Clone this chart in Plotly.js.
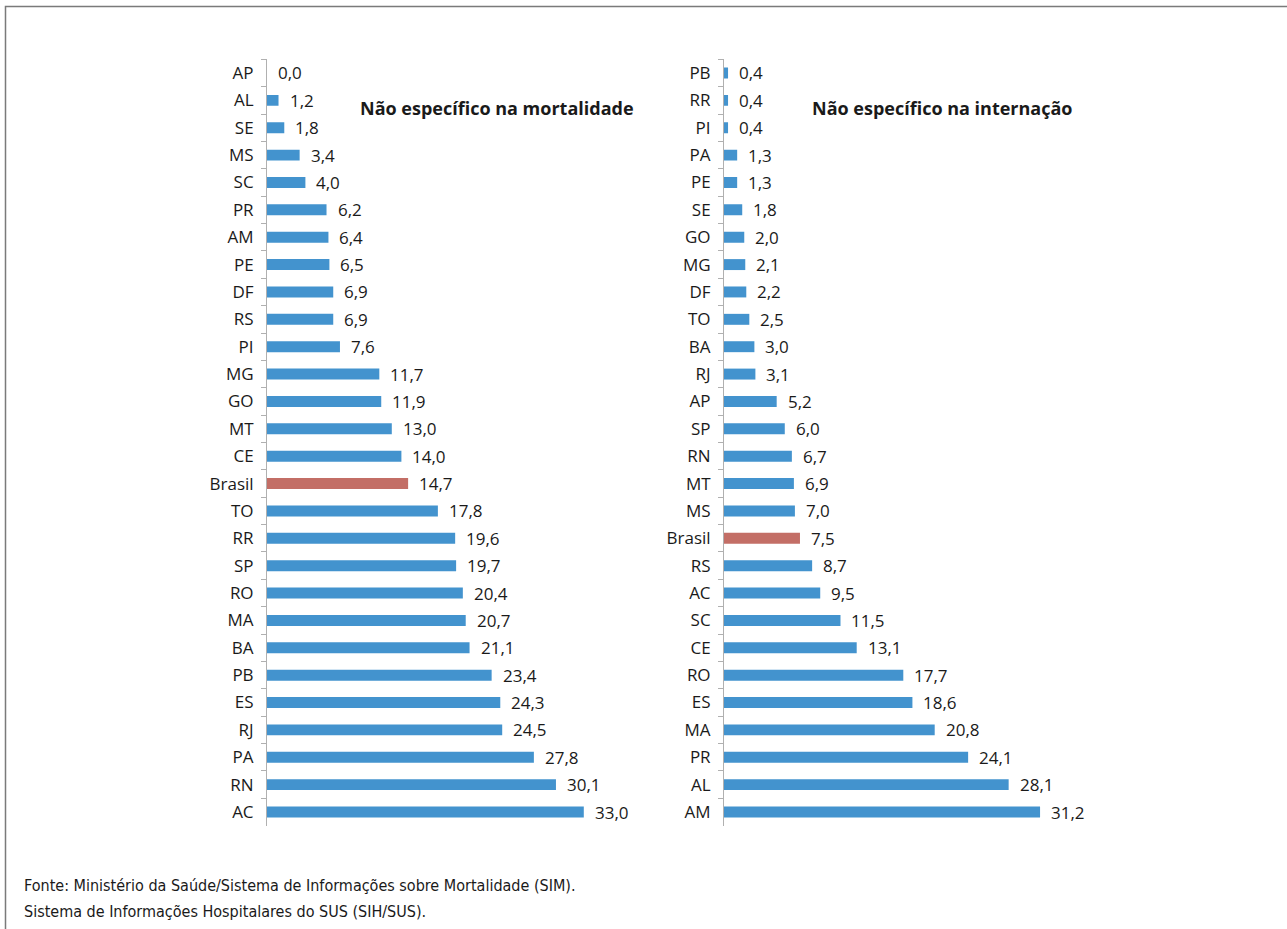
<!DOCTYPE html>
<html>
<head>
<meta charset="utf-8">
<script src="https://cdn.plot.ly/plotly-3.0.1.min.js"></script>
<style>html,body{margin:0;padding:0;background:#fff;}#chart{width:1287px;height:929px;}</style>
</head>
<body>
<div id="chart"></div>
<script>
// Left chart: Não específico na mortalidade
const catsMort = ["AP","AL","SE","MS","SC","PR","AM","PE","DF","RS","PI","MG","GO","MT","CE","Brasil","TO","RR","SP","RO","MA","BA","PB","ES","RJ","PA","RN","AC"];
const valsMort = [0.0,1.2,1.8,3.4,4.0,6.2,6.4,6.5,6.9,6.9,7.6,11.7,11.9,13.0,14.0,14.7,17.8,19.6,19.7,20.4,20.7,21.1,23.4,24.3,24.5,27.8,30.1,33.0];
// Right chart: Não específico na internação
const catsInt = ["PB","RR","PI","PA","PE","SE","GO","MG","DF","TO","BA","RJ","AP","SP","RN","MT","MS","Brasil","RS","AC","SC","CE","RO","ES","MA","PR","AL","AM"];
const valsInt = [0.4,0.4,0.4,1.3,1.3,1.8,2.0,2.1,2.2,2.5,3.0,3.1,5.2,6.0,6.7,6.9,7.0,7.5,8.7,9.5,11.5,13.1,17.7,18.6,20.8,24.1,28.1,31.2];
const titleMort = "Não específico na mortalidade";
const titleInt = "Não específico na internação";
const fonteLines = ["Fonte: Ministério da Saúde/Sistema de Informações sobre Mortalidade (SIM).",
                    "Sistema de Informações Hospitalares do SUS (SIH/SUS)."];

const W = 1287, H = 929;
const BLUE = "#4393CE", RED = "#C36E66";
const FONT = "Open Sans, Noto Sans, sans-serif";
const fmt = v => v.toFixed(1).replace(".", ",");
const colorsFor = cats => cats.map(c => c === "Brasil" ? RED : BLUE);

const px = v => v / W;
const py = v => 1 - v / H;

const traces = [
  {type: "bar", orientation: "h", x: valsMort, y: catsMort, xaxis: "x", yaxis: "y",
   marker: {color: colorsFor(catsMort)}, hoverinfo: "skip"},
  {type: "bar", orientation: "h", x: valsInt, y: catsInt, xaxis: "x2", yaxis: "y2",
   marker: {color: colorsFor(catsInt)}, hoverinfo: "skip"}
];

const ann = [];
catsMort.forEach((c, i) => ann.push({xref: "x", yref: "y", x: valsMort[i], y: c, text: fmt(valsMort[i]),
  showarrow: false, xanchor: "left", xshift: 9, font: {family: FONT, size: 17, color: "#1a1a1a"}}));
catsInt.forEach((c, i) => ann.push({xref: "x2", yref: "y2", x: valsInt[i], y: c, text: fmt(valsInt[i]),
  showarrow: false, xanchor: "left", xshift: 9, font: {family: FONT, size: 17, color: "#1a1a1a"}}));
ann.push({xref: "paper", yref: "paper", x: px(358), y: py(108), xanchor: "left", yanchor: "middle",
  text: "<b>" + titleMort + "</b>", showarrow: false, font: {family: FONT, size: 18, color: "#1a1a1a"}});
ann.push({xref: "paper", yref: "paper", x: px(810), y: py(108), xanchor: "left", yanchor: "middle",
  text: "<b>" + titleInt + "</b>", showarrow: false, font: {family: FONT, size: 18, color: "#1a1a1a"}});
fonteLines.forEach((t, i) => ann.push({xref: "paper", yref: "paper", x: px(22), y: py(885 + i * 26),
  xanchor: "left", yanchor: "middle", text: t, showarrow: false,
  font: {family: "Liberation Sans Narrow, DejaVu Sans Condensed, sans-serif", size: 16, color: "#1a1a1a"}}));

const yax = (cats) => ({
  type: "category", categoryorder: "array", categoryarray: cats, autorange: "reversed",
  showline: true, linecolor: "#b0b0b0", linewidth: 1, ticks: "outside", tickson: "boundaries",
  ticklen: 5, tickcolor: "#b0b0b0", showgrid: false, zeroline: false,
  tickfont: {family: FONT, size: 17, color: "#1a1a1a"}, ticklabelstandoff: 9,
  domain: [py(825.7), py(59.3)], fixedrange: true
});
const xax = (d0, range) => ({
  domain: [px(d0), px(d0 + range[1] * (d0 < 500 ? 9.6 : 10.13))], range: range,
  visible: false, showgrid: false, zeroline: false, fixedrange: true
});

const layout = {
  width: W, height: H, margin: {l: 0, r: 0, t: 0, b: 0},
  paper_bgcolor: "#fff", plot_bgcolor: "rgba(0,0,0,0)", showlegend: false,
  bargap: 0.6,
  xaxis: Object.assign(xax(267, [0, 35]), {anchor: "y"}),
  yaxis: Object.assign(yax(catsMort), {anchor: "x"}),
  xaxis2: Object.assign(xax(724, [0, 35]), {anchor: "y2"}),
  yaxis2: Object.assign(yax(catsInt), {anchor: "x2"}),
  annotations: ann,
  shapes: [{type: "rect", xref: "paper", yref: "paper", x0: px(5.5), x1: px(1300), y0: py(940), y1: py(6.5),
    line: {color: "#7a7a7a", width: 1.5}, fillcolor: "rgba(0,0,0,0)"}]
};

Plotly.newPlot("chart", traces, layout, {displayModeBar: false, staticPlot: true});
</script>
</body>
</html>
